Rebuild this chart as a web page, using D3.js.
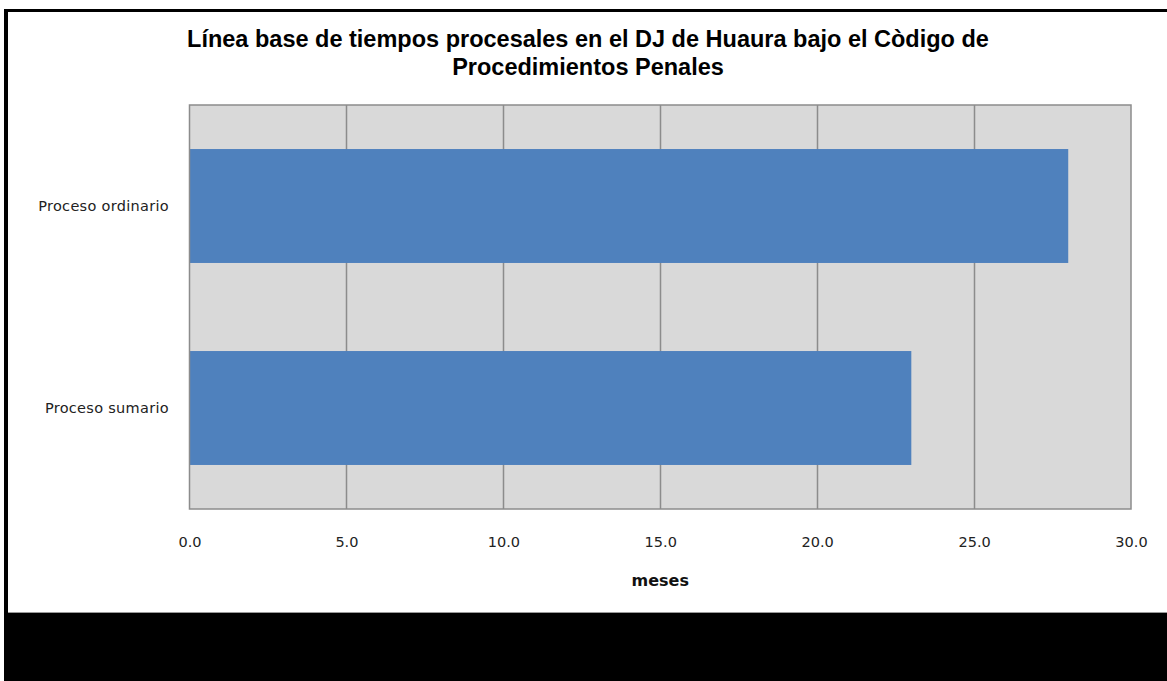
<!DOCTYPE html>
<html>
<head>
<meta charset="utf-8">
<script src="https://cdn.jsdelivr.net/npm/d3@7"></script>
<style>
  body { margin: 0; background: #fff; }
  svg { display: block; }
</style>
</head>
<body>
<div id="chart"></div>
<script>
var categories = ["Proceso ordinario", "Proceso sumario"];
var values = [28.0, 23.0];
var ticks = [0, 5, 10, 15, 20, 25, 30];
var titleLines = ["Línea base de tiempos procesales  en el DJ de Huaura bajo el Còdigo de", "Procedimientos Penales"];
var axisTitle = "meses";

var W = 1167, H = 681;
var plot = {left: 189.5, right: 1131, top: 105, bottom: 509};

var svg = d3.select("#chart").append("svg")
    .attr("width", W)
    .attr("height", H);

// frame: black border + black band at the bottom
svg.append("rect").attr("x", 0).attr("y", 0).attr("width", W).attr("height", H).attr("fill", "#fff");
svg.append("rect").attr("x", 4).attr("y", 9).attr("width", W - 4).attr("height", H - 9).attr("fill", "#000");
svg.append("rect").attr("x", 8).attr("y", 12).attr("width", W - 8).attr("height", 600).attr("fill", "#fff");
svg.append("line").attr("x1", 8).attr("x2", W).attr("y1", 612.5).attr("y2", 612.5)
    .attr("stroke", "#9a9a9a").attr("stroke-width", 1);

var x = d3.scaleLinear()
    .domain([0, 30])
    .range([plot.left, plot.right]);

var y = d3.scaleBand()
    .domain(categories)
    .range([plot.top, plot.bottom])
    .paddingInner(0.436)
    .paddingOuter(0.218);

// plot background
svg.append("rect")
    .attr("x", plot.left).attr("y", plot.top)
    .attr("width", plot.right - plot.left).attr("height", plot.bottom - plot.top)
    .attr("fill", "#d9d9d9");

// gridlines
svg.append("g").selectAll("line")
    .data(ticks.slice(1, -1))
  .enter().append("line")
    .attr("x1", function(d) { return Math.round(x(d)) + 0.5; })
    .attr("x2", function(d) { return Math.round(x(d)) + 0.5; })
    .attr("y1", plot.top)
    .attr("y2", plot.bottom)
    .attr("stroke", "#8c8c8c")
    .attr("stroke-width", 1.5);

// bars
svg.append("g").selectAll("rect")
    .data(values)
  .enter().append("rect")
    .attr("x", x(0))
    .attr("y", function(d, i) { return y(categories[i]); })
    .attr("width", function(d) { return x(d) - x(0); })
    .attr("height", y.bandwidth())
    .attr("fill", "#4f81bd");

// plot border
svg.append("rect")
    .attr("x", plot.left).attr("y", plot.top)
    .attr("width", plot.right - plot.left).attr("height", plot.bottom - plot.top)
    .attr("fill", "none")
    .attr("stroke", "#8c8c8c")
    .attr("stroke-width", 1.5);

// x axis labels
var xAxis = d3.axisBottom(x)
    .tickValues(ticks)
    .tickSize(0)
    .tickPadding(0)
    .tickFormat(d3.format(".1f"));

var gx = svg.append("g")
    .attr("transform", "translate(0," + 547 + ")")
    .call(xAxis);
gx.select(".domain").remove();
gx.selectAll("text")
    .attr("dy", 0)
    .attr("y", 0)
    .attr("fill", "#222")
    .style("font-family", "DejaVu Sans, Verdana, sans-serif")
    .style("font-size", "14.5px");

// y axis labels
var yAxis = d3.axisLeft(y).tickSize(0).tickPadding(0);
var gy = svg.append("g")
    .attr("transform", "translate(" + 169 + ",0)")
    .call(yAxis);
gy.select(".domain").remove();
gy.selectAll("text")
    .attr("dy", "0.36em")
    .attr("fill", "#222")
    .style("font-family", "DejaVu Sans, Verdana, sans-serif")
    .style("font-size", "14.5px")
    .style("letter-spacing", "0.3px");

// axis title
svg.append("text")
    .attr("x", (plot.left + plot.right) / 2)
    .attr("y", 586)
    .attr("text-anchor", "middle")
    .attr("fill", "#111")
    .style("font-family", "DejaVu Sans, Verdana, sans-serif")
    .style("font-size", "16px")
    .style("font-weight", "bold")
    .text(axisTitle);

// title
svg.append("g").selectAll("text")
    .data(titleLines)
  .enter().append("text")
    .attr("x", 588)
    .attr("y", function(d, i) { return 47 + i * 28; })
    .attr("text-anchor", "middle")
    .attr("fill", "#000")
    .style("font-family", "Liberation Sans, Arial, sans-serif")
    .style("font-size", "23.5px")
    .style("font-weight", "bold")
    .text(function(d) { return d; });
</script>
</body>
</html>
